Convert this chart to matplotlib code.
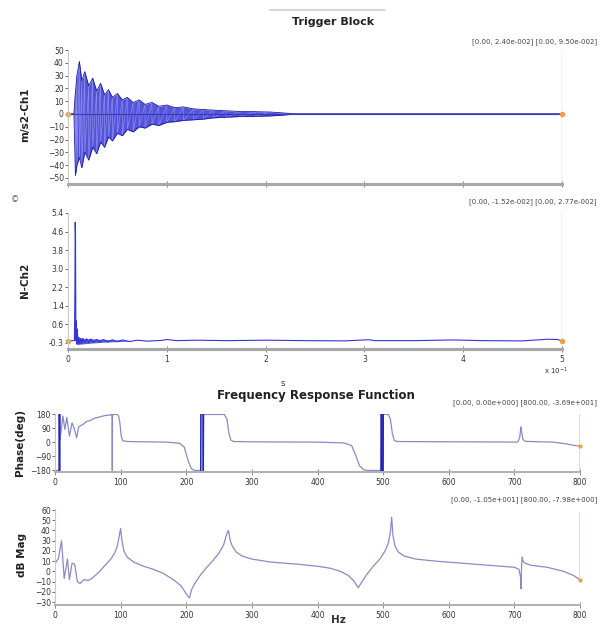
import matplotlib
matplotlib.use("Agg")
import matplotlib.pyplot as plt
import numpy as np

# ---------------- data ----------------
# acceleration (Ch1) envelope, time in units of 1e-1 s
acc_t = [0.00, 0.06, 0.075, 0.09, 0.115, 0.14, 0.17, 0.21, 0.25, 0.29, 0.33, 0.37,
         0.41, 0.45, 0.50, 0.55, 0.60, 0.66, 0.72, 0.78, 0.85, 0.92, 1.00, 1.08,
         1.17, 1.27, 1.37, 1.47, 1.60, 1.74, 1.90, 2.05, 2.15, 2.23, 2.30, 5.00]
acc_upper = [0, 0, 17, 30, 41, 26, 33, 22, 28, 18, 24, 15, 19, 13, 16, 11, 13, 9,
             11, 7.5, 9, 6, 7, 5, 5.5, 4, 3.5, 3, 2.5, 2, 1.8, 1.5, 1, 0.5, 0, 0]
acc_lower = [0, 0, -48, -40, -34, -42, -30, -36, -26, -31, -22, -26, -18, -21, -15,
             -17, -12, -14, -10, -11, -8, -9, -6.5, -6, -5, -4.5, -4, -3, -2.5, -2,
             -1.8, -1.5, -1, -0.5, 0, 0]

# force (Ch2)
f_t = [0.00, 0.065, 0.07, 0.073, 0.076, 0.08, 0.083, 0.086, 0.09, 0.095, 0.10, 0.11,
       0.12, 0.13, 0.14, 0.15, 0.17, 0.19, 0.21, 0.23, 0.26, 0.29, 0.32, 0.36, 0.40,
       0.45, 0.50, 0.55, 0.62, 0.70, 0.80, 0.95, 1.0, 1.1, 1.3, 1.6, 2.0, 2.4, 2.8,
       3.05, 3.1, 3.5, 3.9, 4.2, 4.6, 4.85, 4.95, 5.0]
f_v = [-0.1, -0.1, 2.0, 5.0, 4.4, -0.1, 0.75, 0.2, -0.25, 0.4, -0.25, 0.05, -0.25,
       0.0, -0.22, 0.0, -0.2, -0.02, -0.2, -0.03, -0.18, -0.05, -0.17, -0.05, -0.16,
       -0.06, -0.15, -0.07, -0.14, -0.08, -0.12, -0.09, -0.05, -0.1, -0.08, -0.1,
       -0.08, -0.1, -0.11, -0.06, -0.1, -0.1, -0.07, -0.1, -0.11, -0.04, -0.05, -0.1]
# force noise band right after the hit
fb_t = [0.09, 0.15, 0.25, 0.35, 0.45, 0.55, 0.62]
fb_hi = [0.05, 0.0, -0.02, -0.04, -0.06, -0.07, -0.09]
fb_lo = [-0.26, -0.24, -0.2, -0.17, -0.15, -0.13, -0.11]

# FRF phase
ph_f = [0, 6.5, 6.6, 7, 7.2, 7.4, 9, 12, 15, 18, 22, 26, 29, 33, 36, 40, 44, 48, 53,
        60, 69, 75, 80, 86, 87, 87.3, 87.6, 95, 97, 99, 101, 103, 110, 140, 170, 190,
        197, 203, 208, 213, 222, 222.3, 225.7, 226, 226.3, 258, 262, 265, 268, 272,
        300, 350, 400, 440, 452, 458, 464, 470, 476, 497, 497.3, 497.6, 498, 498.4,
        500, 500.3, 508, 511, 514, 517, 522, 560, 620, 680, 705, 708, 710, 711, 713,
        716, 725, 760, 780, 790, 800]
ph_v = [-180, -180, 180, -180, 180, 20, 62, 170, 84, 160, 41, 126, 94, 30, 100, 110,
        120, 135, 140, 155, 165, 172, 175, 178, 180, -180, 180, 180, 170, 120, 40, 12,
        6, 4, 2, -5, -30, -120, -170, -180, -180, 180, 180, -180, 180, 180, 150, 60,
        15, 6, 4, 3, 2, -3, -20, -80, -150, -175, -180, -180, 180, -180, 180, -180,
        -180, 180, 180, 150, 60, 12, 6, 5, 4, 3, 2, 30, 100, 70, 20, 8, 6, 2, -10,
        -18, -25]

# FRF magnitude
db_f = [0, 5, 10, 14, 19, 22, 26, 30, 34, 38, 44, 50, 56, 65, 75, 85, 91, 95, 98, 100,
        102, 105, 110, 120, 135, 150, 165, 180, 192, 198, 202, 205, 208, 213, 220, 230,
        240, 250, 257, 261, 264, 265, 267, 270, 276, 285, 300, 330, 370, 400, 420, 435,
        447, 455, 462, 468, 475, 485, 495, 503, 508, 511, 513, 515, 518, 523, 532, 550,
        580, 620, 660, 700, 707, 709.5, 710, 711, 712, 713, 716, 725, 750, 775, 790, 800]
db_v = [8, 12, 30, -7, 12, -8, 8, 7, -10, -12, -8, -9, -7, -2, 5, 12, 18, 25, 35, 42,
        30, 20, 14, 9, 5, 2, -2, -8, -14, -20, -24, -26, -18, -12, -5, 3, 10, 18, 26, 35,
        40, 38, 30, 25, 19, 15, 12, 9, 7, 5, 3, 0, -4, -9, -16, -10, -3, 5, 12, 20,
        28, 38, 53, 35, 25, 19, 15, 12, 10, 8, 6, 4, 2, -6, -17, 5, 14, 10, 8, 6, 4, 0,
        -4, -8]

acc_ticks = [50, 40, 30, 20, 10, 0, -10, -20, -30, -40, -50]
force_ticks = [5.4, 4.6, 3.8, 3.0, 2.2, 1.4, 0.6, -0.2]
force_ticklabels = ["5.4", "4.6", "3.8", "3.0", "2.2", "1.4", "0.6", "-0.3"]
time_ticks = [0, 1, 2, 3, 4, 5]
phase_ticks = [180, 90, 0, -90, -180]
db_ticks = [60, 50, 40, 30, 20, 10, 0, -10, -20, -30]
hz_ticks = [0, 100, 200, 300, 400, 500, 600, 700, 800]

ann1 = "[0.00, 2.40e-002] [0.00, 9.50e-002]"
ann2 = "[0.00, -1.52e-002] [0.00, 2.77e-002]"
ann3 = "[0.00, 0.00e+000] [800.00, -3.69e+001]"
ann4 = "[0.00, -1.05e+001] [800.00, -7.98e+000]"

# ---------------- figure ----------------
W, H = 607, 630
fig = plt.figure(figsize=(W / 100, H / 100), dpi=100)
fig.patch.set_facecolor("white")


def rect(l, t, r, b):
    return [l / W, 1 - b / H, (r - l) / W, (b - t) / H]


BLUE = "#3535d6"
DARK = "#1c1ca8"
PURP = "#8a8ac4"
ORANGE_L = "#f4d3a2"
ORANGE = "#f0a040"
TICKC = "#333333"


def style(ax, thick_bottom):
    for s in ("top", "right"):
        ax.spines[s].set_visible(False)
    ax.spines["left"].set_color("#c8c8c8")
    ax.spines["left"].set_linewidth(0.8)
    if thick_bottom:
        ax.spines["bottom"].set_color("#a8a8a8")
        ax.spines["bottom"].set_linewidth(2.2)
    else:
        ax.spines["bottom"].set_color("#b0b0b0")
        ax.spines["bottom"].set_linewidth(1.4)
    ax.tick_params(axis="y", direction="out", length=2, width=0.6, colors="#555555",
                   labelsize=5.5, labelcolor=TICKC, pad=1)
    ax.tick_params(axis="x", direction="inout", length=4, width=0.6, colors="#777777",
                   labelsize=5.5, labelcolor=TICKC, pad=2)


# ---- panel 1: acceleration ----
ax1 = fig.add_axes(rect(68, 50, 562, 184))
style(ax1, True)
ax1.fill_between(acc_t, acc_lower, acc_upper, color=BLUE, alpha=0.85, lw=0)
zz_t, zz_v = [], []
for t, u, l in zip(acc_t, acc_upper, acc_lower):
    zz_t += [t, t]
    zz_v += [u, l]
ax1.plot(zz_t, zz_v, color="#8c8ce8", lw=0.5)
ax1.plot(acc_t, acc_upper, color=DARK, lw=0.6)
ax1.plot(acc_t, acc_lower, color=DARK, lw=0.6)
ax1.plot([acc_t[0], acc_t[-1]], [0, 0], color="#3a3ab8", lw=0.8)
ax1.axvline(acc_t[0], color=ORANGE_L, lw=1.4)
ax1.axvline(acc_t[-1], color=ORANGE, lw=1.0, alpha=0.8)
ax1.plot([acc_t[0], acc_t[-1]], [0, 0], "o", color=ORANGE, ms=3, clip_on=False)
ax1.set_xlim(0, 5)
ax1.set_ylim(-54.7, 50)
ax1.set_yticks(acc_ticks)
ax1.set_xticks(time_ticks)
ax1.set_xticklabels([])

# ---- panel 2: force ----
ax2 = fig.add_axes(rect(68, 213, 562, 349))
style(ax2, True)
ax2.fill_between(fb_t, fb_lo, fb_hi, color=BLUE, alpha=0.8, lw=0)
ax2.plot(f_t, f_v, color=BLUE, lw=0.8)
ax2.axvline(f_t[0], color=ORANGE_L, lw=1.4)
ax2.axvline(f_t[-1], color=ORANGE, lw=1.0, alpha=0.8)
ax2.plot([f_t[0], f_t[-1]], [f_v[0], f_v[-1]], "o", color=ORANGE, ms=3, clip_on=False)
ax2.set_xlim(0, 5)
ax2.set_ylim(-0.46, 5.4)
ax2.set_yticks(force_ticks)
ax2.set_yticklabels(force_ticklabels)
ax2.set_xticks(time_ticks)
ax2.set_xticklabels([str(v) for v in time_ticks])

# ---- panel 3: phase ----
ax3 = fig.add_axes(rect(55, 414, 580, 472))
style(ax3, False)
ax3.plot(ph_f, ph_v, color=PURP, lw=0.9)
pf = np.array(ph_f)
pv = np.array(ph_v)
for i in range(len(pf) - 1):
    if abs(pv[i + 1] - pv[i]) > 300 and not (80 < pf[i] < 90):
        ax3.plot(pf[i:i + 2], pv[i:i + 2], color="#2424b8", lw=1.0)
ax3.axvline(ph_f[-1], color=ORANGE_L, lw=1.2)
ax3.plot([ph_f[-1]], [ph_v[-1]], "o", color=ORANGE, ms=2, clip_on=False)
ax3.set_xlim(0, 800)
ax3.set_ylim(-190, 183)
ax3.set_yticks(phase_ticks)
ax3.set_xticks(hz_ticks)

# ---- panel 4: dB magnitude ----
ax4 = fig.add_axes(rect(55, 509, 580, 605))
style(ax4, False)
ax4.plot(db_f, db_v, color=PURP, lw=0.9)
ax4.plot([db_f[-1], db_f[-1]], [db_v[-1], 57], color=ORANGE_L, lw=1.2)
ax4.plot([db_f[-1]], [db_v[-1]], "o", color=ORANGE, ms=2, clip_on=False)
ax4.set_xlim(0, 800)
ax4.set_ylim(-32.9, 61)
ax4.set_yticks(db_ticks)
ax4.set_xticks(hz_ticks)

# ---------------- texts ----------------
fig.add_artist(plt.Line2D([270 / W, 385 / W], [1 - 10 / H, 1 - 10 / H],
                          color="#d0d0d0", lw=1.2))
fig.text(333 / W, 1 - 22 / H, "Trigger Block", ha="center", va="center",
         fontsize=8, fontweight="bold", color="#222222")
fig.text(316 / W, 1 - 396 / H, "Frequency Response Function", ha="center",
         va="center", fontsize=8.5, fontweight="bold", color="#222222")

for y, s in ((42, ann1), (202, ann2), (403, ann3), (500, ann4)):
    fig.text(597 / W, 1 - y / H, s, ha="right", va="center", fontsize=5,
             color="#444444")

fig.text(25 / W, 1 - 115 / H, "m/s2-Ch1", rotation=90, ha="center", va="center",
         fontsize=7.5, fontweight="bold", color="#222222")
fig.text(25 / W, 1 - 280 / H, "N-Ch2", rotation=90, ha="center", va="center",
         fontsize=7.5, fontweight="bold", color="#222222")
fig.text(20 / W, 1 - 443 / H, "Phase(deg)", rotation=90, ha="center", va="center",
         fontsize=7.5, fontweight="bold", color="#222222")
fig.text(22 / W, 1 - 555 / H, "dB Mag", rotation=90, ha="center", va="center",
         fontsize=7.5, fontweight="bold", color="#222222")

fig.text(283 / W, 1 - 383 / H, "s", ha="center", va="center", fontsize=6,
         color="#333333")
fig.text(556 / W, 1 - 371 / H, "x 10$^{-1}$", ha="center", va="center",
         fontsize=5, color="#333333")
fig.text(338 / W, 1 - 620 / H, "Hz", ha="center", va="center", fontsize=7.5,
         fontweight="bold", color="#333333")
fig.text(15 / W, 1 - 200 / H, "©", ha="center", va="center", fontsize=6,
         color="#555555")

fig.savefig("out.png", dpi=100)
